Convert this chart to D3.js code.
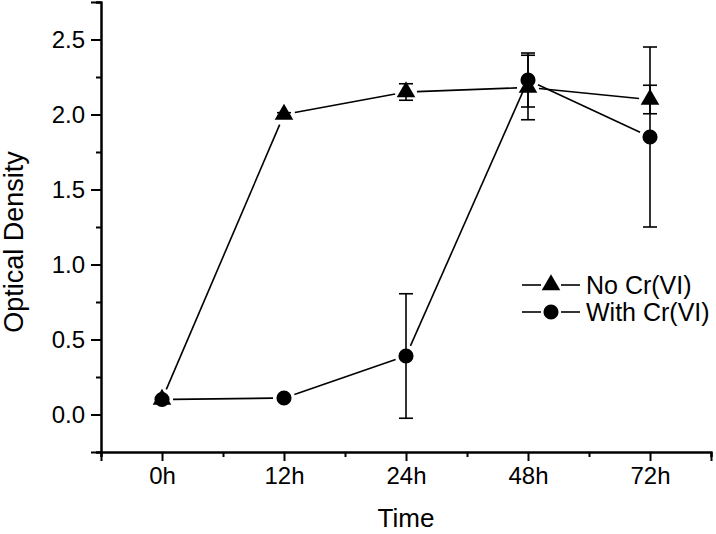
<!DOCTYPE html>
<html>
<head>
<meta charset="utf-8">
<script src="https://cdn.jsdelivr.net/npm/d3@7"></script>
<style>
  body { margin: 0; background: #fff; }
  svg { display: block; }
  text { font-family: "Liberation Sans", Arial, sans-serif; fill: #000; }
</style>
</head>
<body>
<svg class="chart"></svg>
<script>
// values
var times = ['0h', '12h', '24h', '48h', '72h'];
var noCr = [0.10, 2.00, 2.15, 2.18, 2.10];
var noCrErr = [0.01, 0.012, 0.055, 0.215, 0.095];
var withCr = [0.10, 0.11, 0.39, 2.23, 1.85];
var withCrErr = [0.01, 0.01, 0.415, 0.18, 0.60];
var yMajor = [0, 0.5, 1.0, 1.5, 2.0, 2.5];
var yMinor = [-0.25, 0.25, 0.75, 1.25, 1.75, 2.25, 2.75];
var xMinor = [-0.5, 0.5, 1.5, 2.5, 3.5, 4.5];

var W = 716, H = 534;
var margin = {top: 2, right: 5, bottom: 82, left: 101},
    width = W - margin.left - margin.right,
    height = H - margin.top - margin.bottom;

var svg = d3.select('.chart').attr('width', W).attr('height', H);
var g = svg.append('g').attr('transform', 'translate(' + margin.left + ',' + margin.top + ')');

var x = d3.scaleLinear().domain([-0.5, 4.5]).range([0, width]),
    y = d3.scaleLinear().domain([-0.25, 2.75]).range([height, 0]);

function styleAxis(a) {
  a.select('.domain').attr('stroke-width', 2);
  a.selectAll('.tick line').attr('stroke-width', 2);
  a.selectAll('.tick text').style('font-size', '24px').attr('fill', '#000');
}

// minor ticks
g.append('g').call(d3.axisLeft(y).tickValues(yMinor).tickSize(5).tickFormat(''))
  .call(styleAxis);
g.append('g').attr('transform', 'translate(0,' + height + ')')
  .call(d3.axisBottom(x).tickValues(xMinor).tickSize(5).tickFormat(''))
  .call(styleAxis);

// major ticks
g.append('g')
  .call(d3.axisLeft(y).tickValues(yMajor).tickSize(10).tickPadding(6).tickFormat(d3.format('.1f')))
  .call(styleAxis);
g.append('g').attr('transform', 'translate(0,' + height + ')')
  .call(d3.axisBottom(x).tickValues(d3.range(times.length)).tickSize(9).tickPadding(6)
    .tickFormat(function(i) { return times[i]; }))
  .call(styleAxis);

// axis titles
g.append('text')
  .attr('x', width / 2).attr('y', height + 75)
  .attr('text-anchor', 'middle').style('font-size', '26px').text('Time');
g.append('text')
  .attr('transform', 'translate(' + (-78) + ',' + (y(1.15)) + ') rotate(-90)')
  .attr('text-anchor', 'middle').style('font-size', '27px').text('Optical Density');

var series = [
  {name: 'No Cr(VI)', values: noCr, err: noCrErr, symbol: d3.symbolTriangle, size: 150},
  {name: 'With Cr(VI)', values: withCr, err: withCrErr, symbol: d3.symbolCircle, size: 180}
];

// error bars
series.forEach(function(s) {
  var eb = g.append('g').attr('stroke', '#000').attr('stroke-width', 1.6);
  s.values.forEach(function(v, i) {
    var cx = x(i), y1 = y(v + s.err[i]), y2 = y(v - s.err[i]);
    eb.append('line').attr('x1', cx).attr('x2', cx).attr('y1', y1).attr('y2', y2);
    eb.append('line').attr('x1', cx - 7).attr('x2', cx + 7).attr('y1', y1).attr('y2', y1);
    eb.append('line').attr('x1', cx - 7).attr('x2', cx + 7).attr('y1', y2).attr('y2', y2);
  });
});

// connecting lines, with a small gap before each marker
var gap = 11;
series.forEach(function(s) {
  var pts = s.values.map(function(v, i) { return [x(i), y(v)]; });
  for (var i = 0; i < pts.length - 1; i++) {
    var a = pts[i], b = pts[i + 1];
    var dx = b[0] - a[0], dy = b[1] - a[1], len = Math.sqrt(dx * dx + dy * dy);
    var ux = dx / len, uy = dy / len;
    g.append('line')
      .attr('x1', a[0] + ux * gap).attr('y1', a[1] + uy * gap)
      .attr('x2', b[0] - ux * gap).attr('y2', b[1] - uy * gap)
      .attr('stroke', '#000').attr('stroke-width', 1.6);
  }
});

// markers
series.forEach(function(s) {
  g.selectAll(null).data(s.values).enter().append('path')
    .attr('d', d3.symbol().type(s.symbol).size(s.size))
    .attr('transform', function(d, i) { return 'translate(' + x(i) + ',' + y(d) + ')'; })
    .attr('fill', '#000');
});

// legend
var legend = svg.append('g').attr('transform', 'translate(522,285)');
series.forEach(function(s, i) {
  var row = legend.append('g').attr('transform', 'translate(0,' + (i * 27) + ')');
  row.append('line').attr('x1', 0).attr('x2', 19).attr('stroke', '#000').attr('stroke-width', 1.6);
  row.append('line').attr('x1', 39).attr('x2', 58).attr('stroke', '#000').attr('stroke-width', 1.6);
  row.append('path').attr('d', d3.symbol().type(s.symbol).size(s.size))
    .attr('transform', 'translate(29,0)').attr('fill', '#000');
  row.append('text').attr('x', 64).attr('y', 9).style('font-size', '25px').text(s.name);
});
</script>
</body>
</html>
